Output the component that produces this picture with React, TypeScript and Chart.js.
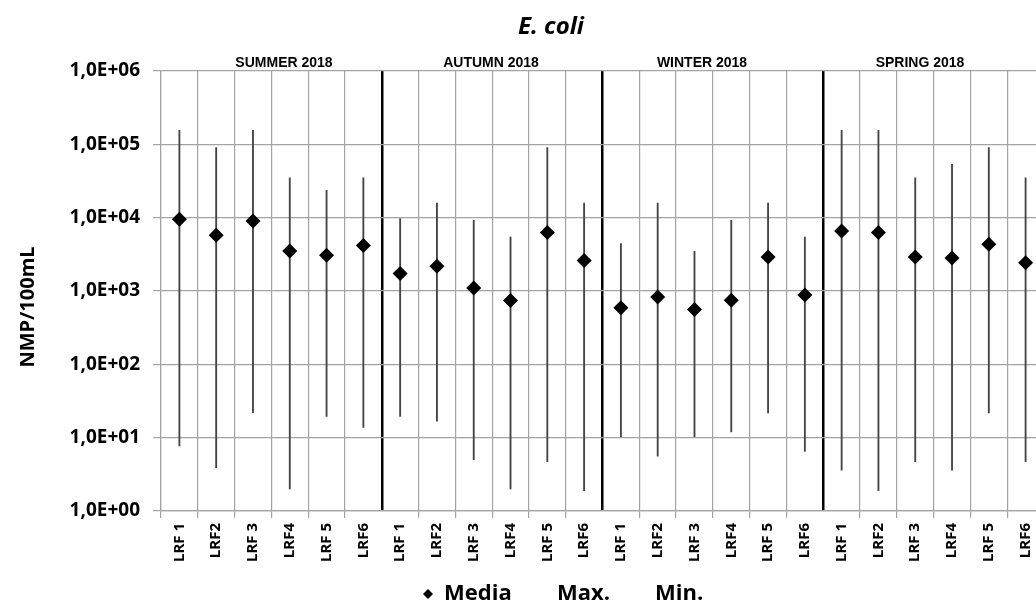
import React, { useEffect, useRef } from "react";
import { Chart, registerables } from "chart.js";

Chart.register(...registerables);

const siteLabels = [
  "LRF 1", "LRF2", "LRF 3", "LRF4", "LRF 5", "LRF6",
  "LRF 1", "LRF2", "LRF 3", "LRF4", "LRF 5", "LRF6",
  "LRF 1", "LRF2", "LRF 3", "LRF4", "LRF 5", "LRF6",
  "LRF 1", "LRF2", "LRF 3", "LRF4", "LRF 5", "LRF6",
];
const seasonLabels = ["SUMMER 2018", "AUTUMN 2018", "WINTER 2018", "SPRING 2018"];
const mediaValues = [
  9500, 5750, 9000, 3500, 3070, 4160,
  1730, 2170, 1100, 740, 6270, 2600,
  590, 830, 560, 750, 2910, 880,
  6590, 6270, 2910, 2820, 4340, 2430,
];
const maxValues = [
  155000, 90000, 155000, 35000, 23600, 35000,
  9700, 15800, 9200, 5450, 90000, 15800,
  4430, 15800, 3480, 9200, 15800, 5450,
  155000, 155000, 35000, 53400, 90000, 35000,
];
const minValues = [
  7.7, 3.9, 22, 2.0, 19.5, 13.8,
  19.5, 16.8, 5.0, 2.0, 4.7, 1.9,
  10.3, 5.6, 10.3, 12, 21.8, 6.5,
  3.6, 1.9, 4.7, 3.6, 21.8, 4.7,
];
const yExponents = [0, 1, 2, 3, 4, 5, 6];
const legendLabels = ["Media", "Max.", "Min."];
const titleText = "E. coli";
const yTitle = "NMP/100mL";

const GRID = "#a3a3a3";
const FONT = "'Open Sans', 'DejaVu Sans', sans-serif";

const textPlugin = {
  id: "texts",
  afterDraw(chart: any) {
    const ctx = chart.ctx;
    ctx.save();
    ctx.fillStyle = "#000";
    // title
    ctx.font = `italic bold 24px ${FONT}`;
    ctx.textAlign = "center";
    ctx.textBaseline = "middle";
    ctx.fillText(titleText, 551, 27);
    // season labels
    ctx.font = "bold 14px 'Liberation Sans', Arial, sans-serif";
    const seasonX = [284, 491, 702, 920];
    seasonLabels.forEach((s, i) => ctx.fillText(s, seasonX[i], 63));
    // y title
    ctx.save();
    ctx.translate(28, 307);
    ctx.rotate(-Math.PI / 2);
    ctx.font = `bold 20px ${FONT}`;
    ctx.fillText(yTitle, 0, 0);
    ctx.restore();
    // legend
    ctx.font = `bold 22px ${FONT}`;
    ctx.textAlign = "left";
    const ly = 594;
    ctx.beginPath();
    ctx.moveTo(428, ly - 5);
    ctx.lineTo(433, ly);
    ctx.lineTo(428, ly + 5);
    ctx.lineTo(423, ly);
    ctx.closePath();
    ctx.fill();
    const lx = [444, 557, 655];
    legendLabels.forEach((t, i) => ctx.fillText(t, lx[i], ly));
    ctx.restore();
  },
};

export default function App() {
  const ref = useRef<HTMLCanvasElement>(null);
  useEffect(() => {
    if (!ref.current) return;
    const isSeasonLine = (i: number) => i > 0 && i < 24 && i % 6 === 0;
    const chart = new Chart(ref.current, {
      type: "bar",
      data: {
        labels: siteLabels,
        datasets: [
          {
            type: "line",
            label: legendLabels[0],
            data: mediaValues,
            showLine: false,
            pointStyle: "rectRot",
            pointRadius: 7.5,
            pointBackgroundColor: "#000",
            pointBorderColor: "#000",
            pointBorderWidth: 0,
            order: 0,
          } as any,
          {
            type: "bar",
            label: "Range",
            data: minValues.map((m, i) => [m, maxValues[i]]),
            backgroundColor: "#444444",
            barThickness: 1.2,
            order: 1,
          } as any,
        ],
      },
      options: {
        responsive: false,
        maintainAspectRatio: false,
        animation: false,
        layout: { padding: { top: 71, right: 16, left: 0, bottom: 0 } },
        plugins: {
          legend: { display: false },
          title: { display: false },
          tooltip: { enabled: false },
        },
        scales: {
          x: {
            type: "category",
            offset: true,
            afterFit(scale: any) {
              scale.height = 94;
            },
            grid: {
              offset: true,
              color: (c: any) => (isSeasonLine(c.index) ? "#000" : GRID),
              lineWidth: (c: any) => (isSeasonLine(c.index) ? 2.5 : 1.2),
              tickColor: (c: any) => (isSeasonLine(c.index) ? "rgba(0,0,0,0)" : GRID),
              tickWidth: 1.2,
              tickLength: 7,
              drawTicks: true,
            },
            border: { display: true, color: GRID, width: 1.2 },
            ticks: {
              autoSkip: false,
              maxRotation: 90,
              minRotation: 90,
              padding: 5,
              color: "#000",
              font: { family: FONT, size: 15, weight: "bold" },
            },
          },
          y: {
            type: "logarithmic",
            min: 1,
            max: 1e6,
            afterFit(scale: any) {
              scale.width = 161;
            },
            afterBuildTicks(scale: any) {
              scale.ticks = yExponents.map((e) => ({ value: Math.pow(10, e) }));
            },
            grid: {
              color: GRID,
              lineWidth: 1.2,
              tickLength: 8,
              drawTicks: true,
            },
            border: { display: true, color: GRID, width: 1.2 },
            ticks: {
              padding: 13,
              color: "#000",
              font: { family: FONT, size: 19, weight: "bold" },
              callback: (v: any) => {
                const e = Math.round(Math.log10(Number(v)));
                return "1,0E+" + String(e).padStart(2, "0");
              },
            },
          },
        },
      } as any,
      plugins: [textPlugin],
    });
    return () => chart.destroy();
  }, []);
  return (
    <div
      style={{
        position: "absolute",
        left: 0,
        top: 0,
        width: 1036,
        height: 605,
        overflow: "hidden",
        background: "#fff",
      }}
    >
      <canvas ref={ref} width={1060} height={605} style={{ width: 1060, height: 605, display: "block" }} />
    </div>
  );
}
